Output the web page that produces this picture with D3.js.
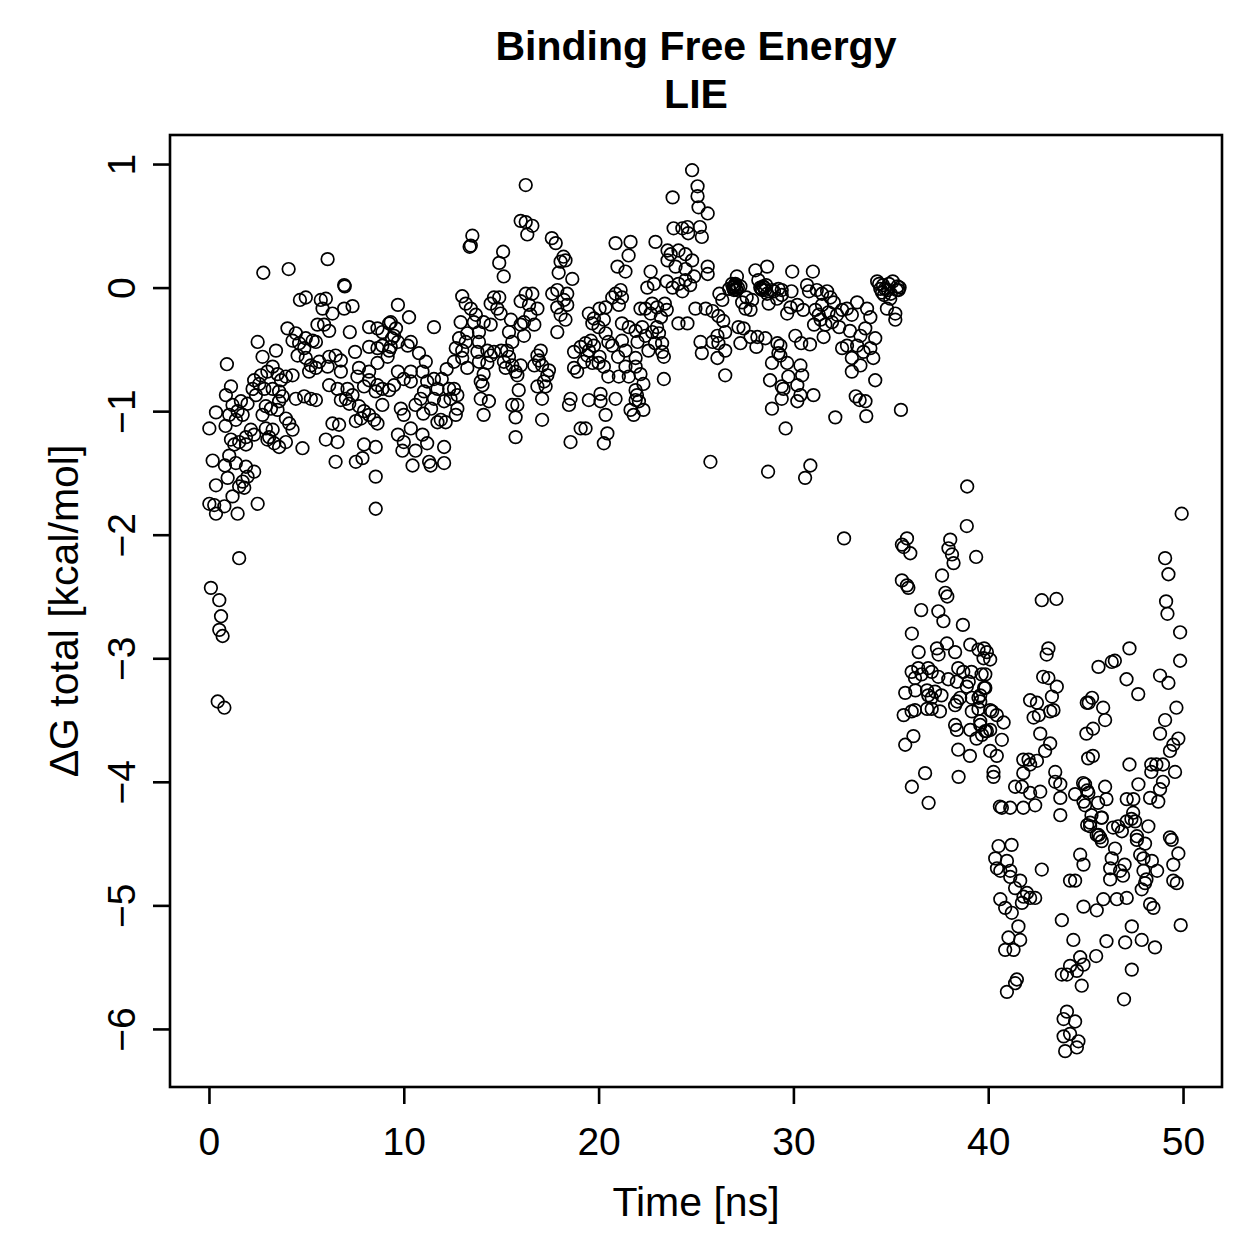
<!DOCTYPE html>
<html>
<head>
<meta charset="utf-8">
<script src="https://cdn.jsdelivr.net/npm/d3@7"></script>
<style>
  body { margin: 0; background: #fff; }
  svg { display: block; }
  text { font-family: "Liberation Sans", Arial, Helvetica, sans-serif; fill: #000; }
</style>
</head>
<body>
<div id="chart"></div>
<script>
// ΔG total (LIE) over simulation time, [time ns, kcal/mol]
const phase0to3 = [[0.02,-1.14],[0.1,-2.43],[0.02,-1.75],[0.27,-1.76],[0.36,-1.83],[0.19,-1.40],[0.36,-1.01],[0.36,-1.60],[0.53,-2.53],[0.62,-2.66],[0.53,-2.77],[0.7,-2.82],[0.45,-3.35],[0.79,-3.40],[0.79,-1.77],[0.92,-0.62],[0.87,-0.87],[0.96,-1.54],[0.85,-1.12],[0.82,-1.44],[1.04,-1.03],[1.04,-1.36],[1.13,-0.80],[1.13,-1.23],[1.21,-0.95],[1.21,-1.69],[1.3,-1.27],[1.38,-1.07],[1.38,-1.42],[1.47,-1.0],[1.47,-1.83],[1.55,-1.25],[1.55,-1.61],[1.55,-2.19],[1.64,-0.92],[1.73,-1.03],[1.73,-1.57],[1.81,-1.62],[1.9,-1.21],[1.9,-1.27],[1.9,-1.45],[1.98,-0.94],[1.98,-1.53],[2.15,-1.15],[2.24,-0.82],[2.32,-0.75],[2.32,-1.19],[2.32,-1.49],[2.41,-0.87],[2.5,-0.44],[2.5,-1.75],[2.58,-0.78],[2.67,-0.71],[2.75,-0.56],[2.75,-1.03],[2.79,0.12],[2.84,-0.82],[2.92,-0.96],[2.92,-1.14]];

const phase3to6 = [[3.0,-0.68],[3.0,-1.23],[3.09,-1.21],[3.18,-0.98],[3.27,-0.64],[3.27,-0.82],[3.27,-1.15],[3.35,-1.26],[3.44,-0.51],[3.52,-0.70],[3.52,-0.99],[3.6,-0.84],[3.6,-0.92],[3.6,-1.29],[3.7,-0.75],[3.78,-0.88],[3.95,-0.72],[3.95,-1.06],[3.95,-1.25],[4.03,-0.33],[4.09,0.15],[4.12,-1.10],[4.29,-0.43],[4.29,-0.71],[4.29,-1.15],[4.46,-0.37],[4.46,-0.90],[4.55,-0.55],[4.63,-0.45],[4.67,-0.10],[4.8,-1.30],[4.89,-0.49],[4.89,-0.88],[4.97,-0.08],[4.97,-0.41],[4.97,-0.57],[5.14,-0.68],[5.23,-0.63],[5.23,-0.90],[5.32,-0.43],[5.49,-0.44],[5.49,-0.65],[5.49,-0.91],[5.57,-0.30],[5.66,-0.60],[5.74,-0.10],[5.83,-0.17],[5.91,-0.30],[6.0,-0.09],[6.0,-1.23]];

const phase6to9 = [[6.09,0.23],[6.09,-0.64],[6.17,-0.35],[6.17,-0.56],[6.17,-0.79],[6.34,-0.21],[6.34,-1.10],[6.5,-0.55],[6.5,-1.41],[6.6,-0.82],[6.6,-1.25],[6.68,-1.11],[6.77,-0.59],[6.77,-0.68],[6.77,-0.91],[6.94,0.02],[6.97,0.01],[6.94,-0.17],[7.03,-0.90],[7.11,-0.82],[7.2,-0.94],[7.23,-0.36],[7.37,-0.15],[7.37,-0.87],[7.5,-0.52],[7.54,-1.08],[7.54,-1.41],[7.62,-0.72],[7.7,-0.65],[7.7,-0.96],[7.8,-1.06],[7.88,-1.38],[7.96,-0.80],[7.96,-1.00],[7.96,-1.27],[8.22,-0.32],[8.22,-0.48],[8.22,-0.68],[8.22,-0.75],[8.22,-1.03],[8.48,-1.07],[8.56,-0.84],[8.56,-1.29],[8.56,-1.53],[8.56,-1.79],[8.65,-0.33],[8.65,-0.49],[8.65,-0.61],[8.65,-0.79],[8.65,-1.10],[8.9,-0.36],[8.9,-0.47],[8.9,-0.82],[8.9,-0.95]];

const phase9to12 = [[9.25,-0.29],[9.25,-0.51],[9.25,-0.83],[9.17,-0.56],[9.33,-0.28],[9.33,-0.48],[9.4,-0.41],[9.5,-0.39],[9.5,-0.79],[9.6,-0.33],[9.7,-0.14],[9.7,-0.44],[9.7,-0.68],[9.7,-1.19],[9.85,-0.98],[9.93,-1.32],[10.0,-0.74],[10.0,-1.03],[10.0,-1.25],[10.2,-0.47],[10.27,-0.24],[10.36,-0.44],[10.36,-0.68],[10.36,-0.76],[10.36,-1.14],[10.45,-1.44],[10.6,-1.32],[10.6,-0.95],[10.78,-0.53],[10.87,-0.90],[10.96,-0.68],[10.96,-1.19],[11.0,-1.02],[11.04,-0.84],[11.13,-0.60],[11.2,-0.76],[11.2,-1.26],[11.3,-1.41],[11.38,-1.44],[11.4,-0.98],[11.55,-0.32],[11.55,-0.74],[11.55,-0.90],[11.73,-0.82],[11.73,-1.09],[11.9,-1.07],[11.95,-0.74],[12.07,-0.92],[12.07,-1.29],[12.07,-1.42],[12.15,-1.09],[12.2,-0.66]];

const phase12to15 = [[12.33,-0.82],[12.4,-0.90],[12.58,-0.82],[12.58,-0.60],[12.67,-0.49],[12.67,-1.03],[12.75,-0.87],[12.75,-0.98],[12.84,-0.41],[12.92,-0.28],[13.0,-0.07],[13.0,-0.51],[13.0,-0.57],[13.18,-0.13],[13.18,-0.44],[13.26,-0.37],[13.26,-0.65],[13.38,0.33],[13.44,0.34],[13.52,0.42],[13.44,-0.17],[13.6,-0.28],[13.7,-0.22],[13.78,-0.52],[13.86,-0.36],[13.86,-0.44],[13.86,-0.60],[13.95,-0.76],[13.95,-0.90],[14.04,-0.79],[14.1,-0.28],[14.1,-0.70],[14.1,-1.03],[14.29,-0.51],[14.29,-0.61],[14.37,-0.92],[14.46,-0.13],[14.46,-0.30],[14.46,-0.55],[14.63,-0.08],[14.63,-0.52],[14.8,-0.17],[14.9,-0.08],[14.9,0.20],[14.97,-0.21],[15.0,-0.51]];

const phase15to18 = [[15.1,0.29],[15.13,0.09],[15.14,-0.60],[15.23,-0.65],[15.3,-0.51],[15.4,-0.36],[15.4,-0.56],[15.5,-0.26],[15.57,-0.44],[15.57,-0.63],[15.57,-0.95],[15.74,-0.68],[15.74,-1.05],[15.74,-1.21],[15.83,-0.71],[15.83,-0.95],[15.9,-0.83],[16.0,0.54],[16.0,-0.11],[16.0,-0.30],[16.0,-0.63],[16.17,-0.28],[16.17,-0.39],[16.26,0.83],[16.26,0.53],[16.34,0.43],[16.26,-0.05],[16.43,-0.14],[16.5,-0.22],[16.6,0.50],[16.6,-0.05],[16.7,-0.30],[16.7,-0.63],[16.86,-0.17],[16.86,-0.55],[16.86,-0.80],[16.94,-0.59],[17.03,-0.51],[17.1,-0.63],[17.1,-0.90],[17.1,-1.07],[17.2,-0.76],[17.28,-0.80],[17.37,-0.71],[17.45,-0.67],[17.6,0.40],[17.62,-0.05],[17.8,0.36],[17.88,-0.02],[17.88,-0.16],[17.88,-0.36],[17.95,0.12]];

const phase18to21 = [[18.05,0.21],[18.05,-0.22],[18.2,0.25],[18.3,0.22],[18.22,-0.10],[18.3,-0.26],[18.39,-0.05],[18.39,-0.14],[18.48,-0.95],[18.56,-0.90],[18.56,-1.25],[18.65,0.07],[18.74,-0.52],[18.74,-0.65],[18.9,-0.68],[19.08,-0.48],[19.08,-1.14],[19.25,-0.60],[19.33,-0.45],[19.33,-1.14],[19.42,-0.55],[19.5,-0.21],[19.5,-0.51],[19.5,-0.91],[19.6,-0.43],[19.68,-0.29],[19.68,-0.61],[19.76,-0.25],[19.76,-0.47],[20.0,-0.32],[20.0,-0.61],[20.05,-0.17],[20.05,-0.56],[20.1,-0.86],[20.1,-0.92],[20.27,-0.26],[20.27,-0.64],[20.27,-1.26],[20.36,-0.16],[20.36,-0.37],[20.36,-1.03],[20.45,-1.18],[20.5,-0.44],[20.5,-0.72],[20.7,-0.08],[20.7,-0.47],[20.87,0.36],[20.87,-0.05],[20.87,-0.90],[20.97,0.17]];

const phase21to24 = [[21.0,-0.56],[21.04,-0.14],[21.04,-0.72],[21.13,-0.02],[21.2,-0.08],[21.2,-0.29],[21.2,-0.43],[21.38,0.13],[21.38,-0.51],[21.38,-0.64],[21.54,0.26],[21.55,-0.32],[21.55,-0.72],[21.64,0.37],[21.64,-0.99],[21.8,-1.03],[21.9,-0.35],[21.9,-0.57],[21.9,-0.64],[21.9,-0.83],[21.9,-0.91],[21.97,-0.87],[22.0,-0.44],[22.07,-0.92],[22.15,-0.17],[22.15,-0.70],[22.24,-0.32],[22.3,-0.78],[22.3,-0.99],[22.4,-0.17],[22.4,-0.39],[22.5,0.0],[22.56,-0.51],[22.67,0.13],[22.67,-0.21],[22.75,-0.13],[22.75,-0.36],[22.84,0.03],[22.9,-0.45],[22.92,0.37],[23.0,-0.16],[23.0,-0.32],[23.1,-0.37],[23.2,-0.24],[23.26,-0.45],[23.26,-0.52],[23.35,-0.56],[23.35,-0.74],[23.4,-0.13],[23.5,0.05],[23.5,-0.18],[23.54,0.30],[23.54,0.22],[23.7,0.27],[23.8,0.73],[23.8,0.0],[23.85,0.48],[23.95,0.17]];

const phase24to27 = [[24.1,0.30],[24.1,0.03],[24.1,-0.29],[24.3,0.48],[24.3,-0.03],[24.46,0.27],[24.46,0.15],[24.46,0.06],[24.56,0.49],[24.56,-0.29],[24.6,0.44],[24.7,0.02],[24.8,0.95],[24.8,0.22],[24.9,0.09],[24.97,-0.17],[25.08,0.82],[25.08,0.74],[25.13,0.65],[25.2,0.49],[25.23,-0.44],[25.3,0.41],[25.3,-0.53],[25.5,-0.17],[25.6,0.60],[25.6,0.17],[25.6,0.11],[25.74,-1.41],[25.85,-0.19],[25.85,-0.44],[26.1,-0.39],[26.1,-0.57],[26.15,-0.23],[26.15,-0.45],[26.2,-0.05],[26.35,-0.10],[26.4,-0.27],[26.5,-0.36],[26.5,-0.51],[26.5,-0.71],[26.7,-0.01],[26.85,0.03],[26.9,0.0],[26.95,-0.02],[26.95,0.01]];

const phase27to30 = [[27.1,0.09],[27.0,0.02],[27.02,0.03],[27.05,-0.01],[27.08,-0.02],[27.15,0.0],[27.18,-0.32],[27.28,0.01],[27.28,-0.45],[27.37,-0.12],[27.44,-0.33],[27.54,-0.17],[27.6,-0.08],[27.8,-0.18],[27.8,-0.40],[27.88,-0.10],[28.05,0.14],[28.1,-0.48],[28.15,-0.40],[28.2,0.06],[28.3,0.0],[28.35,-0.01],[28.4,-0.02],[28.45,0.01],[28.5,0.0],[28.55,-0.02],[28.6,0.02],[28.56,-0.41],[28.65,0.17],[28.65,-0.05],[28.73,-0.13],[28.7,-1.49],[28.8,-0.75],[28.9,-0.02],[28.9,-0.61],[28.9,-0.98],[29.0,-0.03],[29.16,-0.09],[29.18,-0.45],[29.23,-0.01],[29.23,-0.53],[29.33,-0.47],[29.33,-0.55],[29.4,-0.02],[29.4,-0.06],[29.4,-0.80],[29.4,-0.90],[29.49,-0.82],[29.6,-1.14],[29.68,-0.21],[29.68,-0.61],[29.74,-0.72],[29.85,-0.16],[29.9,-0.03],[29.94,0.13]];

const phase30to33 = [[30.1,-0.39],[30.2,-0.14],[30.2,-0.79],[30.2,-0.92],[30.36,-0.63],[30.36,-0.87],[30.4,-0.45],[30.45,-0.71],[30.5,-0.18],[30.6,-1.54],[30.7,0.02],[30.8,-0.03],[30.85,-0.46],[30.87,-1.44],[31.0,0.13],[31.03,-0.87],[31.06,-0.30],[31.13,-0.18],[31.2,-0.02],[31.3,-0.22],[31.4,-0.26],[31.47,-0.05],[31.47,-0.14],[31.55,-0.40],[31.64,-0.30],[31.73,-0.03],[31.8,-0.20],[31.9,-0.08],[31.98,-0.28],[32.07,-0.12],[32.15,-1.05],[32.24,-0.22],[32.35,-0.32],[32.5,-0.18],[32.5,-0.49],[32.6,-2.03],[32.75,-0.17],[32.75,-0.47],[32.9,-0.35],[33.0,-0.22],[33.0,-0.57],[33.0,-0.68]];

const phase33to36 = [[33.2,-0.88],[33.27,-0.12],[33.27,-0.47],[33.4,-0.91],[33.44,-0.39],[33.44,-0.63],[33.6,-0.52],[33.69,-0.33],[33.7,-0.92],[33.74,-1.04],[33.78,-0.17],[33.95,-0.24],[33.95,-0.49],[34.1,-0.57],[34.2,-0.41],[34.2,-0.75],[34.3,0.05],[34.4,0.03],[34.46,-0.01],[34.55,-0.04],[34.6,0.02],[34.65,-0.06],[34.7,-0.01],[34.8,-0.17],[34.85,-0.02],[34.9,0.03],[34.97,-0.09],[35.0,-0.05],[35.1,0.05],[35.23,-0.21],[35.23,-0.26],[35.3,-0.02],[35.35,0.01],[35.4,-0.02],[35.45,0.0],[35.52,-0.99]];

const phase36to41 = [[35.57,-2.08],[35.57,-2.37],[35.66,-2.10],[35.66,-3.46],[35.74,-3.28],[35.74,-3.70],[35.83,-2.03],[35.83,-2.41],[35.9,-2.43],[36.0,-2.15],[36.07,-3.11],[36.07,-3.43],[36.08,-2.80],[36.08,-4.04],[36.16,-3.63],[36.24,-3.16],[36.24,-3.42],[36.26,-3.26],[36.41,-3.08],[36.43,-2.95],[36.56,-2.61],[36.58,-3.13],[36.76,-3.93],[36.86,-3.26],[36.86,-3.41],[36.92,-3.08],[36.92,-3.30],[36.94,-4.17],[37.1,-3.11],[37.1,-3.32],[37.1,-3.41],[37.27,-3.27],[37.37,-2.92],[37.44,-2.62],[37.44,-3.15],[37.45,-2.97],[37.52,-3.43],[37.6,-3.30],[37.63,-2.33],[37.7,-2.70],[37.8,-2.47],[37.88,-2.88],[37.9,-2.50],[37.95,-3.17],[37.96,-2.11],[38.05,-2.04],[38.14,-2.16],[38.22,-2.23],[38.3,-2.95],[38.3,-3.38],[38.3,-3.54],[38.39,-3.19],[38.39,-3.58],[38.4,-3.35],[38.46,-3.08],[38.46,-3.74],[38.48,-3.96],[38.56,-3.32],[38.7,-2.73],[38.72,-3.11],[38.9,-1.93],[38.9,-3.23],[38.92,-1.61],[39.0,-3.19],[39.06,-3.79],[39.08,-2.89],[39.08,-3.58],[39.14,-3.11],[39.16,-3.32],[39.16,-3.43],[39.38,-2.18],[39.4,-3.65],[39.5,-2.93],[39.5,-3.32],[39.5,-3.41],[39.59,-3.35],[39.59,-3.54],[39.66,-3.13],[39.76,-3.0],[39.85,-3.24],[39.85,-3.59],[39.93,-2.95],[39.79,-2.92],[39.85,-3.13],[39.79,-3.24],[39.59,-3.30],[39.59,-3.51],[39.93,-3.59],[39.68,-3.62],[40.1,-3.01],[40.1,-3.42],[40.1,-3.58],[40.1,-3.75],[40.2,-3.43],[40.27,-3.92],[40.27,-3.96],[40.44,-3.46],[40.44,-3.79],[40.7,-3.66],[40.79,-3.52],[40.6,-4.20]];

const phase40to45 = [[40.36,-4.62],[40.45,-4.70],[40.53,-4.52],[40.62,-4.72],[40.62,-4.95],[40.7,-4.21],[40.87,-5.02],[40.87,-5.36],[40.96,-4.64],[40.96,-5.70],[41.04,-5.26],[41.13,-4.21],[41.13,-4.72],[41.13,-4.77],[41.2,-4.51],[41.21,-5.06],[41.3,-5.36],[41.38,-4.04],[41.38,-4.86],[41.38,-5.63],[41.47,-5.60],[41.55,-5.17],[41.64,-4.80],[41.64,-5.28],[41.73,-4.04],[41.73,-4.98],[41.8,-3.82],[41.8,-3.93],[41.8,-4.21],[41.81,-4.93],[41.99,-4.90],[42.07,-3.82],[42.15,-3.34],[42.15,-3.86],[42.15,-4.09],[42.15,-4.94],[42.33,-3.48],[42.41,-4.19],[42.41,-4.94],[42.5,-3.36],[42.5,-3.83],[42.6,-3.46],[42.67,-3.61],[42.67,-4.08],[42.75,-2.53],[42.75,-4.71],[42.82,-3.15],[42.92,-3.75],[43.0,-2.97],[43.09,-2.92],[43.09,-3.16],[43.18,-3.43],[43.18,-3.69],[43.27,-3.31],[43.35,-3.42],[43.44,-3.92],[43.44,-4.0],[43.5,-2.52],[43.52,-3.23],[43.7,-4.02],[43.7,-4.13],[43.7,-4.27],[43.78,-5.12],[43.78,-5.56],[43.87,-5.92],[43.87,-6.06],[43.95,-6.18],[44.04,-5.56],[44.04,-5.86],[44.2,-4.80],[44.2,-5.49],[44.2,-6.04],[44.37,-5.28],[44.46,-4.10],[44.46,-4.80],[44.46,-5.94],[44.55,-5.53],[44.55,-6.15],[44.63,-6.10],[44.72,-4.59],[44.72,-5.42],[44.8,-5.65],[44.87,-4.01],[44.89,-4.16],[44.89,-4.67],[44.89,-5.01],[44.89,-5.48],[44.97,-4.02],[44.97,-4.19]];

const phase45to50 = [[45.04,-3.61],[45.06,-3.36],[45.08,-4.07],[45.08,-4.35],[45.13,-3.81],[45.14,-4.09],[45.16,-3.36],[45.23,-4.33],[45.23,-4.36],[45.3,-4.27],[45.33,-3.32],[45.37,-3.79],[45.38,-3.57],[45.54,-5.41],[45.57,-4.43],[45.57,-5.04],[45.64,-4.17],[45.66,-3.07],[45.66,-4.43],[45.74,-4.45],[45.81,-4.29],[45.83,-4.29],[45.83,-4.48],[45.9,-3.40],[45.91,-4.95],[46.0,-3.50],[46.0,-4.04],[46.07,-4.14],[46.07,-5.29],[46.26,-4.70],[46.26,-4.79],[46.34,-3.03],[46.34,-4.62],[46.41,-4.37],[46.5,-3.02],[46.51,-4.54],[46.6,-4.95],[46.67,-4.36],[46.77,-4.72],[46.86,-4.40],[46.92,-4.76],[46.97,-5.76],[47.0,-4.67],[47.03,-5.30],[47.1,-3.17],[47.11,-4.14],[47.11,-4.32],[47.11,-4.94],[47.25,-2.92],[47.25,-3.86],[47.35,-4.30],[47.37,-5.17],[47.37,-5.52],[47.44,-4.25],[47.45,-4.14],[47.54,-4.32],[47.63,-4.44],[47.63,-4.47],[47.7,-3.29],[47.71,-4.02],[47.8,-4.59],[47.88,-4.87],[47.88,-5.28],[47.97,-4.62],[47.97,-4.72],[48.05,-4.50],[48.05,-4.82],[48.12,-4.79],[48.22,-4.36],[48.31,-4.13],[48.31,-4.99],[48.37,-3.86],[48.37,-3.92],[48.4,-4.64],[48.48,-5.02],[48.56,-5.34],[48.63,-3.86],[48.67,-4.72],[48.73,-4.16],[48.82,-3.14],[48.82,-3.61],[48.82,-4.06],[48.97,-3.86],[48.97,-4.00],[49.08,-2.19],[49.08,-3.50],[49.13,-2.54],[49.2,-2.64],[49.25,-2.32],[49.25,-3.20],[49.33,-3.75],[49.33,-4.45],[49.42,-4.47],[49.5,-3.70],[49.5,-4.67],[49.5,-4.80],[49.59,-3.92],[49.66,-3.40],[49.68,-4.82],[49.76,-3.65],[49.76,-4.58],[49.85,-2.79],[49.85,-3.02],[49.88,-5.16],[49.93,-1.83]];

const xTicks = [0, 10, 20, 30, 40, 50];
const yTicks = [-6, -5, -4, -3, -2, -1, 0, 1];

const data = [].concat(phase0to3, phase3to6, phase6to9, phase9to12, phase12to15,
    phase15to18, phase18to21, phase21to24, phase24to27, phase27to30,
    phase30to33, phase33to36, phase36to41, phase40to45, phase45to50);

const W = 1259, H = 1259;
const plot = {left: 170, right: 1222, top: 135, bottom: 1087};

const svg = d3.select("#chart").append("svg")
    .attr("width", W)
    .attr("height", H)
    .style("background", "#fff");

// R style: range stretched 4% each side
const x = d3.scaleLinear().domain([-2, 52]).range([plot.left, plot.right]);
const y = d3.scaleLinear().domain([-6.47, 1.235]).range([plot.bottom, plot.top]);

const fontSize = 39;

// points
svg.append("g")
    .selectAll("circle")
    .data(data)
    .enter().append("circle")
    .attr("cx", d => x(d[0]))
    .attr("cy", d => y(d[1]))
    .attr("r", 6.3)
    .attr("fill", "none")
    .attr("stroke", "#000")
    .attr("stroke-width", 1.7);

// x axis
const gx = svg.append("g")
    .attr("transform", "translate(0," + plot.bottom + ")")
    .call(d3.axisBottom(x).tickValues(xTicks).tickSize(17).tickFormat(d3.format("d")));
gx.select(".domain").remove();
gx.selectAll(".tick line").attr("stroke", "#000").attr("stroke-width", 2.6);
gx.selectAll(".tick text")
    .attr("y", 68)
    .attr("dy", null)
    .style("font-size", fontSize + "px")
    .style("font-family", "\"Liberation Sans\", Arial, sans-serif");

// y axis, labels parallel to the axis
const gy = svg.append("g")
    .attr("transform", "translate(" + plot.left + ",0)")
    .call(d3.axisLeft(y).tickValues(yTicks).tickSize(17).tickFormat(d3.format("d")));
gy.select(".domain").remove();
gy.selectAll(".tick line").attr("stroke", "#000").attr("stroke-width", 2.6);
gy.selectAll(".tick text")
    .attr("x", null)
    .attr("dy", null)
    .attr("transform", "translate(-35,0) rotate(-90)")
    .attr("text-anchor", "middle")
    .style("font-size", fontSize + "px")
    .style("font-family", "\"Liberation Sans\", Arial, sans-serif");

// frame
svg.append("rect")
    .attr("x", plot.left)
    .attr("y", plot.top)
    .attr("width", plot.right - plot.left)
    .attr("height", plot.bottom - plot.top)
    .attr("fill", "none")
    .attr("stroke", "#000")
    .attr("stroke-width", 2.6);

// titles
const cx = (plot.left + plot.right) / 2;
svg.append("text")
    .attr("x", cx).attr("y", 60)
    .attr("text-anchor", "middle")
    .style("font-size", "41px").style("font-weight", "bold")
    .text("Binding Free Energy");
svg.append("text")
    .attr("x", cx).attr("y", 108)
    .attr("text-anchor", "middle")
    .style("font-size", "41px").style("font-weight", "bold")
    .text("LIE");

svg.append("text")
    .attr("x", cx).attr("y", 1216)
    .attr("text-anchor", "middle")
    .style("font-size", "41px")
    .text("Time [ns]");

svg.append("text")
    .attr("transform", "translate(78," + ((plot.top + plot.bottom) / 2) + ") rotate(-90)")
    .attr("text-anchor", "middle")
    .style("font-size", "41px")
    .text("ΔG total [kcal/mol]");
</script>
</body>
</html>
